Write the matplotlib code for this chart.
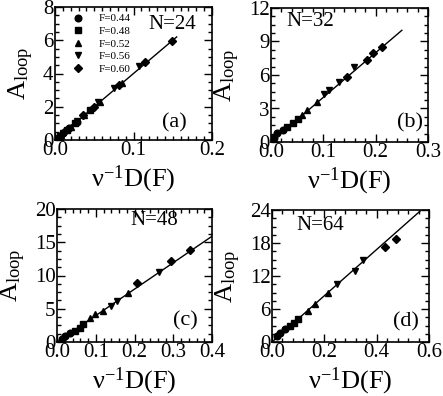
import matplotlib
matplotlib.use("Agg")
import matplotlib.pyplot as plt
from matplotlib.ticker import MultipleLocator, AutoMinorLocator

plt.rcParams['font.family'] = ['Liberation Serif', 'DejaVu Serif']
plt.rcParams['mathtext.fontset'] = 'custom'
plt.rcParams['mathtext.rm'] = 'Liberation Serif'
plt.rcParams['mathtext.it'] = 'Liberation Serif'

F_labels = ['F=0.44', 'F=0.48', 'F=0.52', 'F=0.56', 'F=0.60']
markers = ['o', 's', '^', 'v', 'D']

# panel (a) N=24
a_x = [[0.004, 0.010, 0.018, 0.028],
       [0.006, 0.015, 0.026, 0.045],
       [0.008, 0.020, 0.037, 0.057, 0.085],
       [0.010, 0.028, 0.055, 0.075, 0.107],
       [0.012, 0.036, 0.050, 0.082, 0.115, 0.149]]
a_y = [[0.15, 0.40, 0.75, 1.10],
       [0.25, 0.60, 1.05, 1.80],
       [0.30, 0.80, 1.50, 2.30, 3.40],
       [0.40, 1.15, 2.30, 3.10, 4.45],
       [0.50, 1.50, 2.00, 3.30, 4.70, 5.95]]
a_line_x = [0.0, 0.155]
a_line_y = [0.0, 6.2]

# panel (b) N=32
b_x = [[0.006, 0.012, 0.022],
       [0.031, 0.042, 0.051],
       [0.059, 0.069, 0.087],
       [0.102, 0.110, 0.129, 0.159],
       [0.145, 0.183, 0.194, 0.213]]
b_y = [[0.37, 0.77, 1.07],
       [1.37, 1.70, 2.10],
       [2.40, 2.90, 3.60],
       [4.30, 4.70, 5.40, 6.74],
       [5.85, 7.34, 7.94, 8.53]]
b_line_x = [0.0, 0.25]
b_line_y = [0.0, 10.0]

# panel (c) N=48
c_x = [[0.012, 0.021, 0.034],
       [0.046, 0.059, 0.068],
       [0.085, 0.098, 0.119, 0.184],
       [0.139, 0.154, 0.264],
       [0.207, 0.293, 0.343]]
c_y = [[0.50, 0.90, 1.30],
       [1.65, 2.15, 2.65],
       [3.65, 4.15, 4.65, 7.30],
       [5.40, 6.20, 10.50],
       [8.80, 12.20, 13.90]]
c_line_x = [0.0, 0.4]
c_line_y = [0.0, 15.9]

# panel (d) N=64
d_x = [[0.018, 0.031, 0.050],
       [0.069, 0.084, 0.100],
       [0.139, 0.164, 0.215],
       [0.247, 0.317, 0.349],
       [0.432, 0.474]]
d_y = [[1.10, 1.70, 2.30],
       [2.90, 3.50, 4.10],
       [5.60, 6.85, 8.97],
       [10.50, 12.90, 15.00],
       [17.30, 18.70]]
d_line_x = [0.0, 0.566]
d_line_y = [0.0, 23.8]

panels = [
    dict(x=a_x, y=a_y, lx=a_line_x, ly=a_line_y, xlim=0.2, ylim=8, xmaj=0.1, ymaj=2, xmin=10,
         N='N=24', npos=(0.745, 0.865), tag='(a)', tpos=(0.76, 0.13),
         rect=[55/443, 1-140/396, 157/443, 133/396]),
    dict(x=b_x, y=b_y, lx=b_line_x, ly=b_line_y, xlim=0.3, ylim=12, xmaj=0.1, ymaj=3, xmin=5,
         N='N=32', npos=(0.25, 0.90), tag='(b)', tpos=(0.885, 0.14),
         rect=[271/443, 1-142/396, 157/443, 134/396]),
    dict(x=c_x, y=c_y, lx=c_line_x, ly=c_line_y, xlim=0.4, ylim=20, xmaj=0.1, ymaj=5, xmin=5,
         N='N=48', npos=(0.63, 0.91), tag='(c)', tpos=(0.83, 0.16),
         rect=[57/443, 1-342/396, 155/443, 133/396]),
    dict(x=d_x, y=d_y, lx=d_line_x, ly=d_line_y, xlim=0.6, ylim=24, xmaj=0.2, ymaj=6, xmin=5,
         N='N=64', npos=(0.31, 0.88), tag='(d)', tpos=(0.85, 0.15),
         rect=[272/443, 1-342/396, 157/443, 132/396]),
]

fig = plt.figure(figsize=(4.43, 3.96), dpi=100)

for i, p in enumerate(panels):
    ax = fig.add_axes(p['rect'])
    for k in range(5):
        ax.plot(p['x'][k], p['y'][k], linestyle='none', marker=markers[k], color='k',
                markersize=4.8 if markers[k] != 'D' else 4.0, label=F_labels[k])
    ax.plot(p['lx'], p['ly'], color='k', lw=1.0)
    ax.set_xlim(0, p['xlim'])
    ax.set_ylim(0, p['ylim'])
    ax.xaxis.set_major_locator(MultipleLocator(p['xmaj']))
    ax.yaxis.set_major_locator(MultipleLocator(p['ymaj']))
    ax.xaxis.set_minor_locator(AutoMinorLocator(p['xmin']))
    ax.yaxis.set_minor_locator(AutoMinorLocator(4))
    ax.xaxis.set_major_formatter(plt.FormatStrFormatter('%.1f'))
    ax.yaxis.set_major_formatter(plt.FormatStrFormatter('%d'))
    ax.tick_params(which='both', direction='in', top=True, right=True, labelsize=15, width=1.0)
    ax.tick_params(which='major', length=6, pad=1)
    ax.tick_params(which='minor', length=3)
    for s in ax.spines.values():
        s.set_linewidth(1.2)
    ax.set_xlabel('ν$^{-1}$D(F)', fontsize=19, labelpad=2)
    ax.set_ylabel('A$_{\\rm loop}$', fontsize=19, labelpad=5)
    ax.text(p['npos'][0], p['npos'][1], p['N'], transform=ax.transAxes, fontsize=15,
            ha='center', va='center')
    ax.text(p['tpos'][0], p['tpos'][1], p['tag'], transform=ax.transAxes, fontsize=16,
            ha='center', va='center')
    if i == 0:
        ax.legend(loc='upper left', frameon=False, fontsize=8, handlelength=1.0,
                  handletextpad=1.3, labelspacing=0.25, borderaxespad=0.2,
                  bbox_to_anchor=(0.07, 1.0))

fig.savefig('out.png', dpi=100)
